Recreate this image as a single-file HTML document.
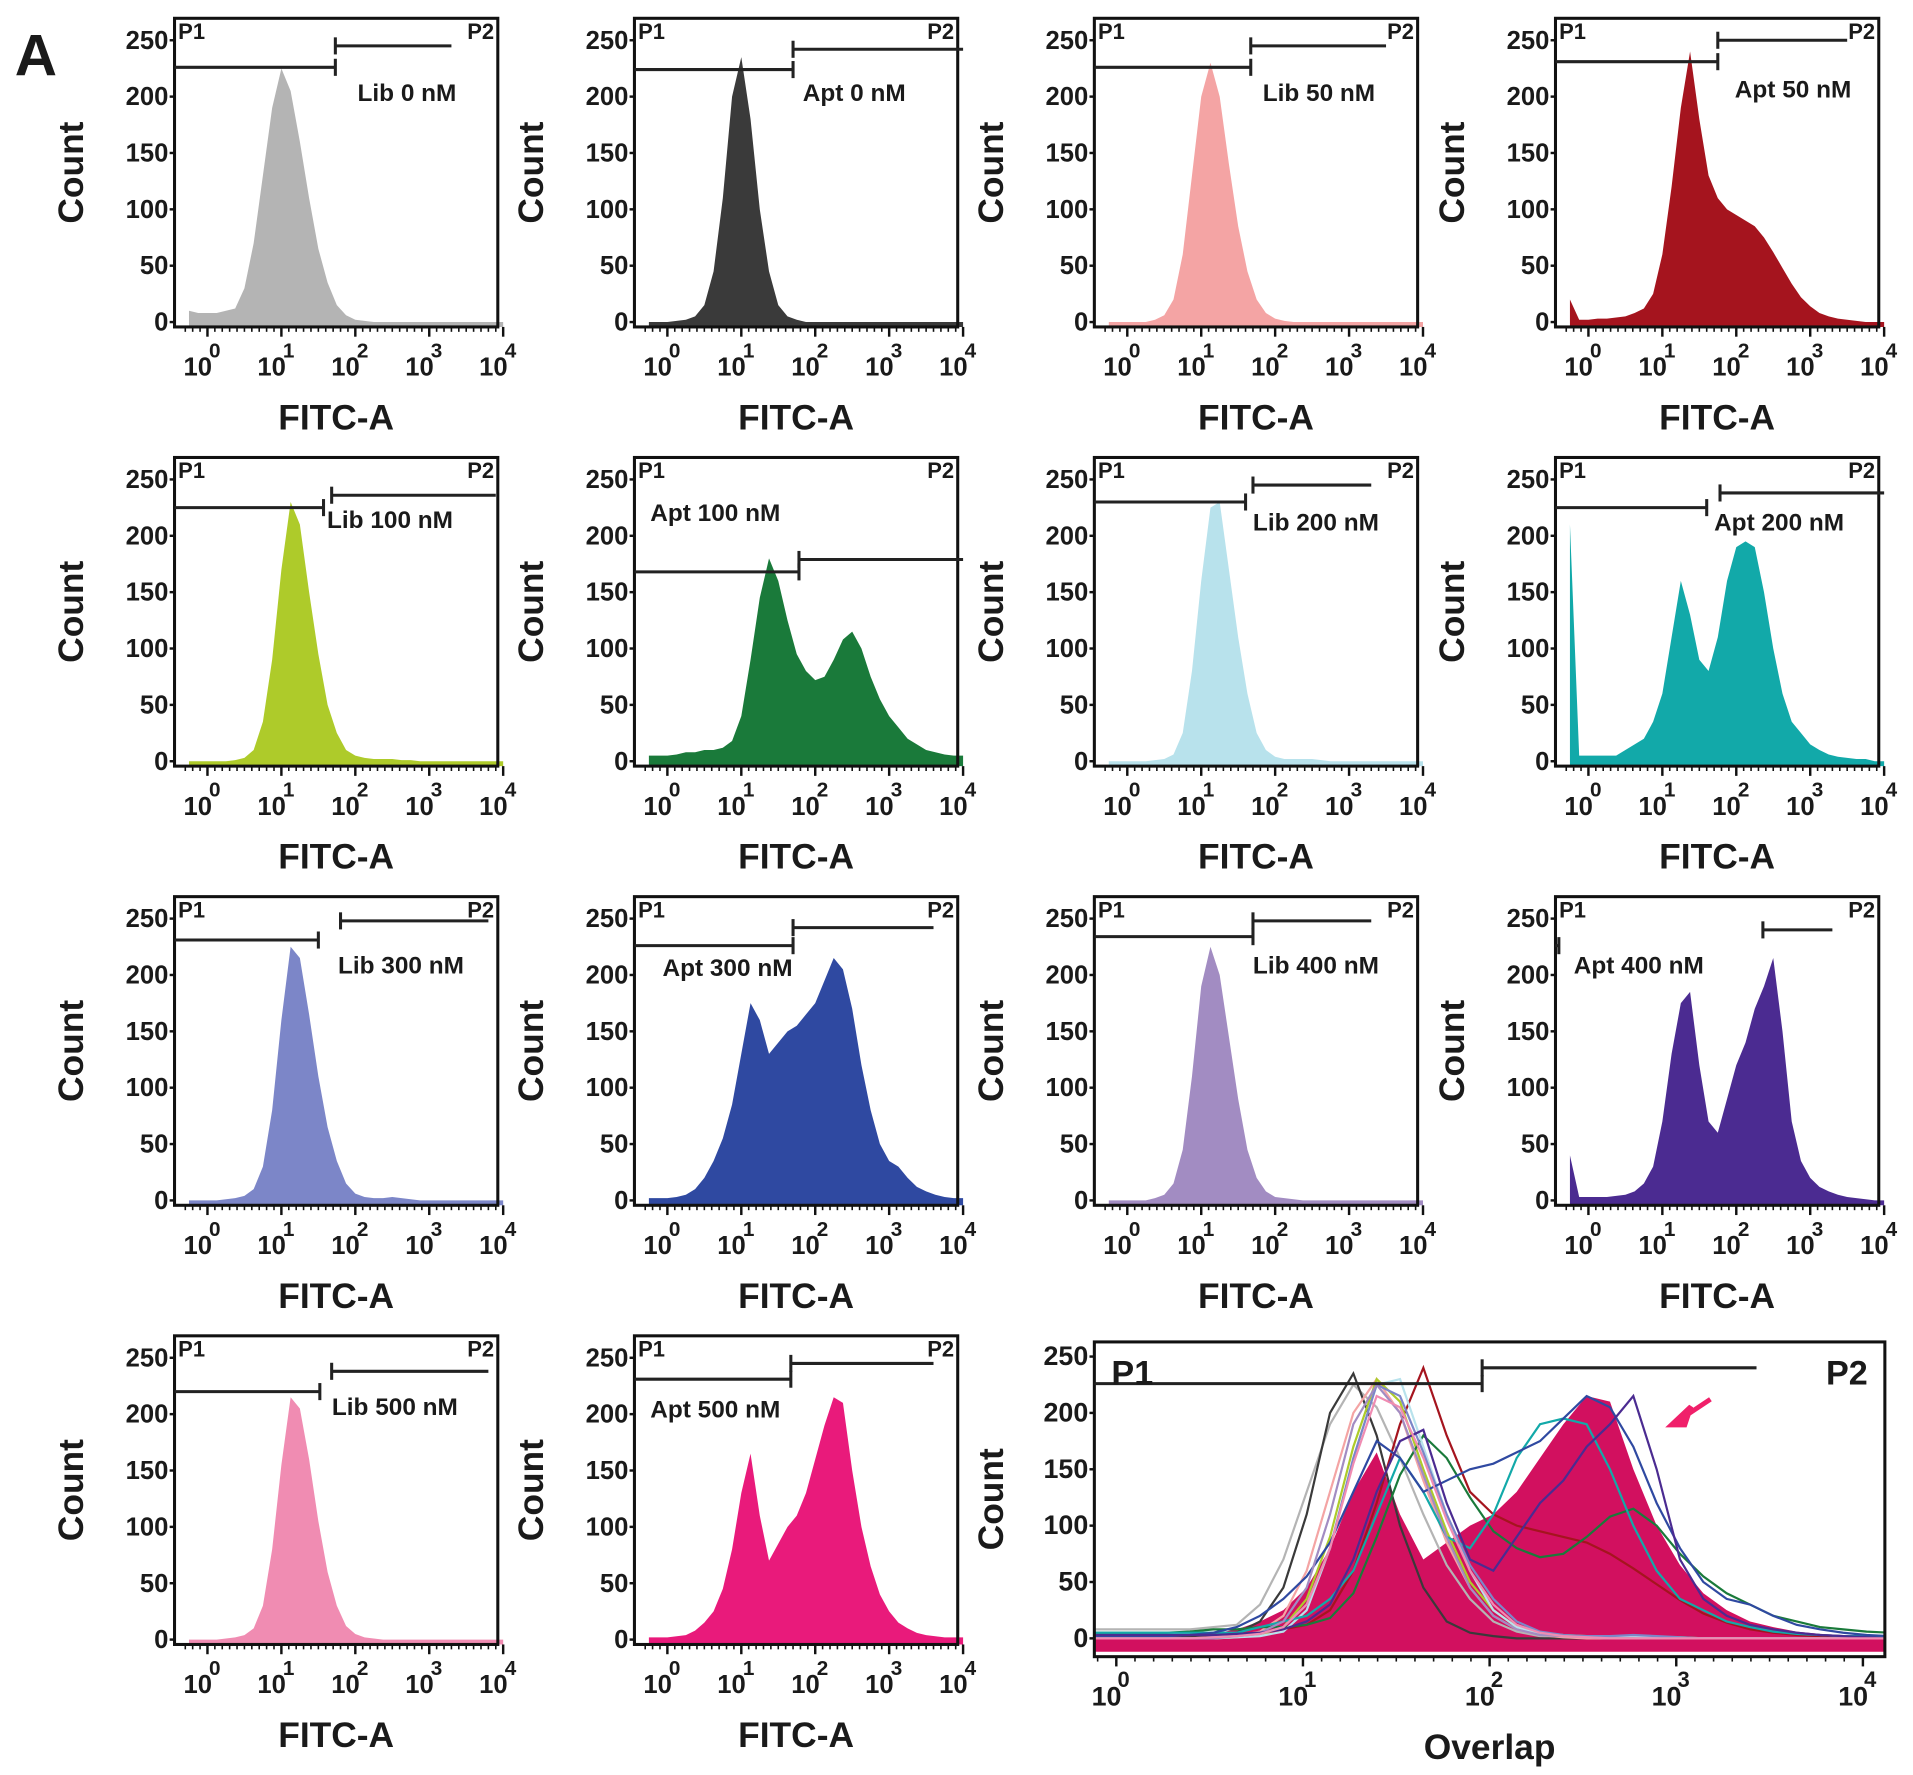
<!DOCTYPE html>
<html><head><meta charset="utf-8">
<style>
html,body{margin:0;padding:0;background:#fff;}
svg{display:block;}
text{font-family:"Liberation Sans",Arial,sans-serif;font-weight:bold;fill:#1a1a1a;}
</style></head>
<body>
<svg id="fig" width="1913" height="1775" viewBox="0 0 1568 1455" xmlns="http://www.w3.org/2000/svg">
<defs><clipPath id="ovclip"><rect x="898" y="1101" width="646" height="256"/></clipPath></defs>
<text x="12" y="62" font-size="48">A</text>
</svg>
<script>
// bin i -> decade -0.25 + 0.125*i
const binStart = -0.25, binStep = 0.125;
const yTicks = [0, 50, 100, 150, 200, 250];
const xDecades = [0, 1, 2, 3, 4];
const sampleNames = ["Lib 0 nM","Apt 0 nM","Lib 50 nM","Apt 50 nM","Lib 100 nM","Apt 100 nM","Lib 200 nM","Apt 200 nM","Lib 300 nM","Apt 300 nM","Lib 400 nM","Apt 400 nM","Lib 500 nM","Apt 500 nM"];
const lib0 = [10,8,8,8,10,12,30,70,130,190,225,205,160,110,65,35,15,6,2,1,0,0,0,0,0,0,0,0,0,0,0,0,0,0,0];
const apt0 = [0,0,0,1,2,5,15,45,110,200,235,180,100,45,15,5,2,0,0,0,0,0,0,0,0,0,0,0,0,0,0,0,0,0,0];
const lib50 = [0,0,0,0,0,2,6,20,60,130,200,230,200,140,85,45,20,8,3,1,0,0,0,0,0,0,0,0,0,0,0,0,0,0,0];
const apt50 = [20,2,2,3,3,4,5,8,12,25,60,120,190,240,180,130,110,100,95,90,85,75,62,48,34,22,14,8,5,3,2,1,0,0,0];
const lib100 = [0,0,0,0,0,1,3,10,35,90,170,230,210,150,95,50,25,10,5,3,2,2,2,1,1,0,0,0,0,0,0,0,0,0,0];
const apt100 = [5,5,5,6,8,8,10,10,12,18,40,90,145,180,160,125,95,80,72,75,90,108,115,100,75,55,40,30,20,15,10,8,6,5,5];
const lib200 = [0,0,0,0,0,1,2,6,25,80,160,225,230,170,110,60,25,10,4,2,2,2,2,1,0,0,0,0,0,0,0,0,0,0,0];
const apt200 = [210,5,5,5,5,5,10,15,20,35,60,110,160,130,90,80,110,160,190,195,190,150,100,60,35,25,15,10,6,4,3,2,2,0,0];
const lib300 = [0,0,0,0,1,2,4,10,30,80,160,225,215,165,110,65,35,15,6,3,2,2,3,2,1,0,0,0,0,0,0,0,0,0,0];
const apt300 = [2,2,2,3,5,10,20,35,55,85,130,175,160,130,140,150,155,165,175,195,215,205,170,120,80,50,35,30,20,12,8,5,3,2,2];
const lib400 = [0,0,0,0,0,2,5,15,45,110,190,225,200,145,90,45,20,8,3,2,1,0,0,0,0,0,0,0,0,0,0,0,0,0,0];
const apt400 = [40,3,3,3,3,4,5,8,15,30,70,130,175,185,120,70,60,90,120,140,170,190,215,150,70,35,20,12,8,5,3,2,1,0,0];
const lib500 = [0,0,0,0,1,2,4,10,30,80,155,215,205,160,105,60,30,12,5,2,1,0,0,0,0,0,0,0,0,0,0,0,0,0,0];
const apt500 = [2,2,2,3,4,8,15,25,45,80,130,165,110,70,85,100,110,130,160,190,215,210,150,100,65,40,25,15,10,6,4,3,2,2,2];
// gates: [p1 end decade, p1 count, p2 start decade, p2 count, p2 end decade]
const gates = [
 [1.73,226,1.73,245,3.3],[1.7,224,1.7,242,4.0],[1.67,226,1.67,245,3.5],[1.75,231,1.75,250,3.5],
 [1.57,225,1.68,236,3.9],[1.78,168,1.78,179,4.0],[1.6,230,1.7,245,3.3],[1.6,225,1.78,238,4.0],
 [1.5,231,1.8,248,3.8],[1.7,226,1.7,242,3.6],[1.7,234,1.7,248,3.3],[-0.4,226,2.36,240,3.3],
 [1.52,220,1.68,238,3.8],[1.67,231,1.67,245,3.6]
];
const overlapGate = [1.96, 226, 1.96, 240, 3.43];
const overlapShift = 0.27;
const series = [lib0,apt0,lib50,apt50,lib100,apt100,lib200,apt200,lib300,apt300,lib400,apt400,lib500,apt500];
const colors = ["#b4b4b4","#3a3a3a","#f4a4a4","#a5141e","#aecb2a","#1a7a3a","#b8e2ec","#12a9a9","#7c86c8","#2f49a1","#a28cc2","#4b2b91","#f08cb2","#e91a7b"];
const labelPos = [[293,83],[658,83],[1035,83],[1422,80],[268,433],[533,427],[1027,435],[1405,435],[277,798],[543,800],[1027,798],[1290,798],[272,1160],[533,1162]];
const colL = [143,520,897,1275], rowT = [15,375,735,1095];
const NS = "http://www.w3.org/2000/svg";
const svg = document.getElementById('fig');
function mk(tag, attrs, parent){const e=document.createElementNS(NS,tag);for(const k in attrs)e.setAttribute(k,attrs[k]);(parent||svg).appendChild(e);return e;}

function makeAxes(L,T,W,x0,dx,y0,ky){
  return {x:d=>L+x0+dx*d, y:c=>T+y0-c*ky};
}
function histPath(arr,ax,axisY,shift,skip,leftX){
  const s=shift||0, k0=skip||0;
  const x0=leftX!==undefined?leftX:ax.x(binStart+binStep*k0+s);
  let d = "M"+x0+","+axisY;
  if(leftX!==undefined) d+=" L"+x0+","+Math.min(axisY,ax.y(arr[k0]));
  arr.forEach((v,i)=>{if(i<k0)return;d+=" L"+ax.x(binStart+binStep*i+s)+","+Math.min(axisY,ax.y(v));});
  d+=" L"+ax.x(binStart+binStep*(arr.length-1)+s)+","+axisY+" Z";return d;
}
function linePath(arr,ax,shift,skip,leftX){
  const out=[];
  if(leftX!==undefined) out.push("M"+leftX+","+ax.y(arr[skip]));
  arr.forEach((v,i)=>{if(i<skip)return;out.push((out.length?"L":"M")+ax.x(binStart+binStep*i+shift)+","+ax.y(v));});
  return out.join(" ");
}
function drawFrame(g,L,T,W,H,ax,xlab,big){
  const axisY=T+H;
  mk('rect',{x:L,y:T,width:W,height:H,fill:'none',stroke:'#111','stroke-width':2.5},g);
  yTicks.forEach(t=>{
    const tl=mk('text',{x:L-5,y:ax.y(t)+7,'font-size':big?22:21,'text-anchor':'end'},g);tl.textContent=t;
    
    
    mk('line',{x1:L-4,x2:L,y1:ax.y(t),y2:ax.y(t),stroke:'#111','stroke-width':2},g);
  });
  xDecades.forEach(d=>{
    const x=ax.x(d);
    mk('line',{x1:x,x2:x,y1:axisY,y2:axisY+8,stroke:'#111','stroke-width':2},g);
    const t=mk('text',{x:x-8,y:axisY+40,'font-size':big?22:21,'text-anchor':'middle'},g);t.textContent="10";
    
    
    const e=mk('text',{x:x+6,y:axisY+25,'font-size':big?18:17,'text-anchor':'middle'},g);e.textContent=d;
    
    
  });
  for(let d=-0.3;d<4;d+=0.1){const x=ax.x(d);if(x<L)continue;mk('line',{x1:x,x2:x,y1:axisY,y2:axisY+4,stroke:'#111','stroke-width':1.3},g);}
  const c=mk('text',{x:0,y:0,'font-size':29,'text-anchor':'middle',transform:`translate(${L-75},${T+H/2}) rotate(-90)`},g);c.textContent="Count";
  
  
  const xl=mk('text',{x:L+W/2,y:axisY+84,'font-size':29,'text-anchor':'middle'},g);xl.textContent=xlab;
  
  
}
function drawGate(g,ax,L,W,T,gt,big){
  const [p1e,p1c,p2s,p2c,p2e]=gt;
  const sw=2.5;
  mk('line',{x1:L,x2:ax.x(p1e),y1:ax.y(p1c),y2:ax.y(p1c),stroke:'#222','stroke-width':sw},g);
  mk('line',{x1:ax.x(p1e),x2:ax.x(p1e),y1:ax.y(p1c)-7,y2:ax.y(p1c)+7,stroke:'#222','stroke-width':sw},g);
  mk('line',{x1:ax.x(p2s),x2:ax.x(p2e),y1:ax.y(p2c),y2:ax.y(p2c),stroke:'#222','stroke-width':sw},g);
  mk('line',{x1:ax.x(p2s),x2:ax.x(p2s),y1:ax.y(p2c)-7,y2:ax.y(p2c)+7,stroke:'#222','stroke-width':sw},g);
  const a=mk('text',{x:L+(big?14:3),y:T+(big?35:17),'font-size':big?28:18},g);a.textContent="P1";
  
  
  const b=mk('text',{x:L+W-(big?14:3),y:T+(big?35:17),'font-size':big?28:18,'text-anchor':'end'},g);b.textContent="P2";
  
  
}

series.forEach((arr,k)=>{
  const L=colL[k%4],T=rowT[Math.floor(k/4)],W=265,H=253;
  const g=mk('g',{});
  
  
  const ax=makeAxes(L,T,W,27,60.6,249,0.924);
  const p=mk('path',{d:histPath(arr,ax,T+H,0,0),fill:colors[k]},g);
  
  
  drawFrame(g,L,T,W,H,ax,"FITC-A",false);
  drawGate(g,ax,L,W,T,gates[k],false);
  const lb=mk('text',{x:labelPos[k][0],y:labelPos[k][1],'font-size':20},g);lb.textContent=sampleNames[k];
  
  
});

// overlap panel
(function(){
  const L=897,T=1100,W=648,H=258;
  const g=mk('g',{});
  
  
  const ax=makeAxes(L,T,W,18,153,243,0.924);
  const cg=mk('g',{'clip-path':'url(#ovclip)'},g);
  const f=mk('path',{d:histPath(apt500,ax,T+H-4,overlapShift,1,L),fill:'#d2105f'},cg);
  
  
  series.forEach((arr,k)=>{
    if(k===13)return;
    const l=mk('path',{d:linePath(arr,ax,overlapShift,1,L),fill:'none',stroke:colors[k],'stroke-width':1.8},cg);
    
    
  });
  drawFrame(g,L,T,W,H,ax,"Overlap",true);
  drawGate(g,ax,L,W,T,overlapGate,true);
  const ar=mk('path',{d:"M1402,1147 L1378,1163 M1370,1168 L1386,1153 L1381,1168 Z",stroke:'#f0206a','stroke-width':4,fill:'#f0206a'},g);
  
  
})();
</script>
</body></html>
